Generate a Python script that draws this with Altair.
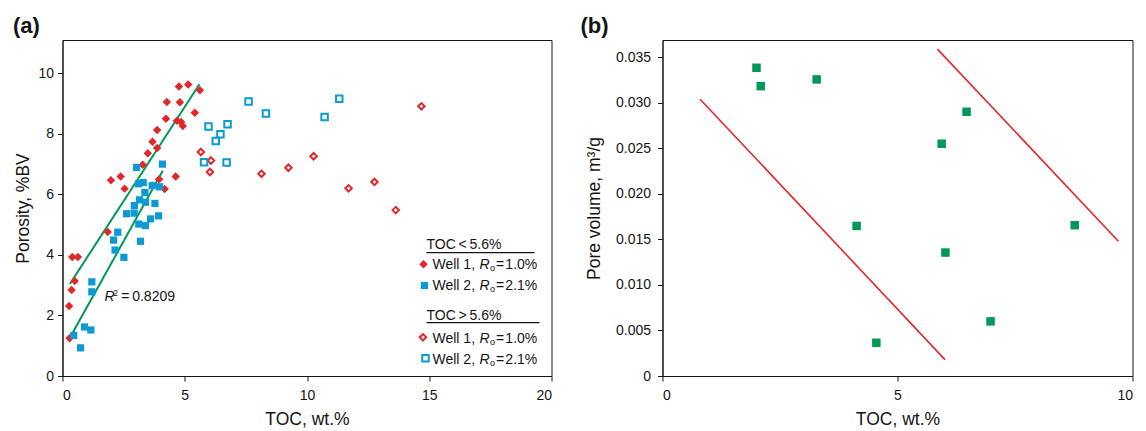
import altair as alt
import pandas as pd

FONT = "Liberation Sans"
RED = "#e0282a"
BLUE = "#0b9ad5"
GREEN = "#00985a"
INK = "#151515"

# ---------------- Panel (a) data ----------------
w1_low_toc = [4.76, 5.14, 5.62, 4.27, 4.80, 5.41, 4.23, 4.68, 4.85, 4.92, 3.87, 3.68, 3.87, 3.49,
              3.28, 1.98, 2.38, 2.54, 4.63, 3.95, 4.18, 1.85, 0.40, 0.63, 0.50, 0.37, 0.27, 0.29]
w1_low_por = [9.56, 9.63, 9.44, 9.05, 9.04, 8.70, 8.50, 8.43, 8.39, 8.26, 8.13, 7.74, 7.53, 7.36,
              6.98, 6.47, 6.59, 6.19, 6.59, 6.50, 6.18, 4.76, 3.93, 3.93, 3.14, 2.84, 2.31, 1.25]

w2_low_toc = [3.03, 4.09, 3.11, 3.30, 3.67, 3.97, 3.37, 3.15, 3.39, 3.78, 2.94, 2.62, 2.93, 3.93,
              3.60, 3.12, 3.39, 2.26, 2.09, 2.15, 2.51, 3.19, 1.20, 1.20, 0.90, 1.16, 0.46, 0.74]
w2_low_por = [6.89, 7.00, 6.35, 6.39, 6.29, 6.25, 6.06, 5.82, 5.74, 5.70, 5.63, 5.36, 5.38, 5.29,
              5.19, 5.02, 4.97, 4.75, 4.49, 4.16, 3.92, 4.45, 3.11, 2.78, 1.62, 1.52, 1.34, 0.93]

w1_high_toc = [5.66, 6.07, 6.03, 8.14, 9.24, 10.27, 11.70, 12.76, 13.63, 14.68]
w1_high_por = [7.40, 7.12, 6.74, 6.68, 6.88, 7.26, 6.20, 6.41, 5.48, 8.91]

w2_high_toc = [7.61, 8.32, 10.72, 11.32, 5.97, 6.75, 6.46, 6.27, 5.79, 6.71]
w2_high_por = [9.07, 8.67, 8.56, 9.16, 8.24, 8.32, 7.99, 7.76, 7.06, 7.05]

fit1_toc = [0.30, 5.60]
fit1_por = [3.04, 9.64]
fit2_toc = [0.37, 4.10]
fit2_por = [1.36, 6.78]

# ---------------- Panel (b) data ----------------
b_toc = [2.00, 2.09, 3.28, 6.47, 5.94, 4.13, 6.02, 8.77, 6.98, 4.55]
b_pv = [0.03385, 0.03183, 0.03257, 0.02902, 0.02551, 0.01648, 0.01356, 0.01656, 0.00600, 0.00365]

lineA_toc = [0.80, 6.01]
lineA_pv = [0.0304, 0.0018]
lineB_toc = [5.85, 9.70]
lineB_pv = [0.0359, 0.0148]

# ---------------- scales ----------------
xa = alt.Scale(domain=[0, 20], nice=False, zero=False)
ya = alt.Scale(domain=[0, 11.1], nice=False, zero=False)
xb = alt.Scale(domain=[0, 10], nice=False, zero=False)
yb = alt.Scale(domain=[0, 0.0369], nice=False, zero=False)

ax_xa = alt.Axis(values=[0, 5, 10, 15, 20], title="TOC, wt.%")
ax_ya = alt.Axis(values=[0, 2, 4, 6, 8, 10], title="Porosity, %BV", titlePadding=5)
ax_xb = alt.Axis(values=[0, 5, 10], title="TOC, wt.%")
ax_yb = alt.Axis(values=[0, 0.005, 0.01, 0.015, 0.02, 0.025, 0.03, 0.035],
                 labelExpr="datum.value == 0 ? '0' : format(datum.value, '.3f')",
                 title="Pore volume, m³/g", labelPadding=7, titlePadding=12)


def pts(tocs, vals, xs, ys, axx, axy, **mark):
    df = pd.DataFrame({"toc": tocs, "v": vals})
    return alt.Chart(df).mark_point(**mark).encode(
        x=alt.X("toc:Q", scale=xs, axis=axx),
        y=alt.Y("v:Q", scale=ys, axis=axy),
    )


def seg(tocs, vals, xs, ys, color, width):
    df = pd.DataFrame({"toc": tocs, "v": vals})
    return alt.Chart(df).mark_line(color=color, strokeWidth=width).encode(
        x=alt.X("toc:Q", scale=xs), y=alt.Y("v:Q", scale=ys)
    )


one = alt.Data(values=[{}])


def txt(s, x, y, size=14, style="normal"):
    return alt.Chart(one).mark_text(
        text=s, align="left", baseline="alphabetic", fontSize=size, fontStyle=style,
        font=FONT, color=INK
    ).encode(x=alt.value(x), y=alt.value(y))


def sym(x, y, **mark):
    return alt.Chart(one).mark_point(**mark).encode(x=alt.value(x), y=alt.value(y))


def hline(x1, x2, y):
    return alt.Chart(one).mark_rule(color=INK, strokeWidth=1.2).encode(
        x=alt.value(x1), x2=alt.value(x2), y=alt.value(y))


def well_label(x, y, well, ro):
    return [
        txt(f"Well {well},", x, y),
        txt("R", x + 47, y, style="italic"),
        txt("o", x + 57.5, y + 1.5, size=9),
        txt(f"=\u200a{ro}", x + 63.5, y),
    ]


DIA = 72
SQ = 52

layers_a = [
    seg(fit1_toc, fit1_por, xa, ya, GREEN, 2),
    seg(fit2_toc, fit2_por, xa, ya, GREEN, 2),
    pts(w1_high_toc, w1_high_por, xa, ya, ax_xa, ax_ya, shape="diamond", filled=False,
        color=RED, size=42, strokeWidth=2, opacity=1),
    pts(w2_high_toc, w2_high_por, xa, ya, ax_xa, ax_ya, shape="square", filled=False,
        color=BLUE, size=42, strokeWidth=2, opacity=1),
    pts(w1_low_toc, w1_low_por, xa, ya, ax_xa, ax_ya, shape="diamond", filled=True,
        color=RED, size=DIA, opacity=1),
    pts(w2_low_toc, w2_low_por, xa, ya, ax_xa, ax_ya, shape="square", filled=True,
        color=BLUE, size=SQ, opacity=1),
    # R^2 annotation
    txt("R", 42, 261, style="italic"),
    txt("2", 50.5, 255.5, size=9),
    txt("=\u20090.8209", 58.7, 261),
    # custom legend
    txt("TOC\u2009<\u20095.6%", 364, 209.3),
    hline(364, 472, 212.7),
    sym(361, 224.3, shape="diamond", filled=True, color=RED, size=DIA, opacity=1),
    sym(362, 245.5, shape="square", filled=True, color=BLUE, size=SQ, opacity=1),
    txt("TOC\u2009>\u20095.6%", 364, 280),
    hline(364, 477, 282.7),
    sym(360.5, 297.3, shape="diamond", filled=False, color=RED, size=42, strokeWidth=2, opacity=1),
    sym(363, 318.3, shape="square", filled=False, color=BLUE, size=42, strokeWidth=2, opacity=1),
]
layers_a += well_label(370, 229.3, 1, "1.0%")
layers_a += well_label(370, 250, 2, "2.1%")
layers_a += well_label(370, 303.3, 1, "1.0%")
layers_a += well_label(370, 324, 2, "2.1%")

title_kw = dict(anchor="start", frame="bounds", fontSize=22, fontWeight="bold",
                font=FONT, color=INK, baseline="alphabetic", offset=-15)

panel_a = alt.layer(*layers_a).properties(
    width=489, height=336, title=alt.TitleParams(text="(a)", dx=-2, **title_kw))

panel_b = alt.layer(
    seg(lineA_toc, lineA_pv, xb, yb, RED, 1.6),
    seg(lineB_toc, lineB_pv, xb, yb, RED, 1.6),
    pts(b_toc, b_pv, xb, yb, ax_xb, ax_yb, shape="square", filled=True, color=GREEN,
        size=72, opacity=1),
).properties(width=470, height=336, title=alt.TitleParams(text="(b)", dx=-5, **title_kw))

chart = alt.hconcat(panel_a, panel_b, spacing=27).properties(
    padding={"left": 3.5, "top": 6, "right": 0, "bottom": 0}
).configure_view(stroke=INK, strokeWidth=1).configure_axis(
    grid=False, labelFont=FONT, labelFontSize=14, labelColor=INK, labelPadding=4,
    titleFont=FONT, titleFontSize=17.5, titleFontWeight="normal", titleColor=INK,
    tickColor=INK, domainColor=INK, tickSize=5, domainWidth=1, tickWidth=1
).configure_axisX(labelPadding=7, titlePadding=8)

chart.save("out.html", embed_options={"renderer": "svg", "actions": False})
